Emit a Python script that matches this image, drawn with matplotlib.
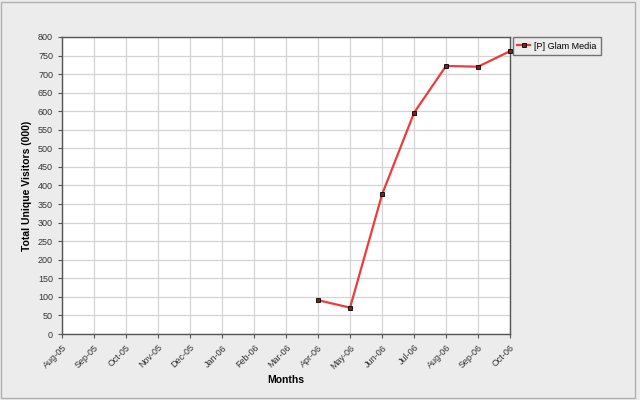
import matplotlib
matplotlib.use("Agg")
from matplotlib import pyplot as plt
import numpy as np

months = ['Aug-05', 'Sep-05', 'Oct-05', 'Nov-05', 'Dec-05', 'Jan-06', 'Feb-06',
          'Mar-06', 'Apr-06', 'May-06', 'Jun-06', 'Jul-06', 'Aug-06', 'Sep-06', 'Oct-06']
# only the last seven months have data
glam_months = ['Apr-06', 'May-06', 'Jun-06', 'Jul-06', 'Aug-06', 'Sep-06', 'Oct-06']
glam_visitors = [91, 71, 376, 596, 722, 720, 762]

plt.rcParams['font.family'] = ['Liberation Sans', 'DejaVu Sans']

fig = plt.figure(figsize=(6.4, 4.0), dpi=100, facecolor='#ececec')
ax = fig.add_axes([0.097, 0.165, 0.70, 0.7425])
ax.set_facecolor('white')

x_all = np.arange(len(months))
x_glam = [months.index(m) for m in glam_months]
ax.plot(x_glam, glam_visitors, color='#ee3b3b', lw=1.6, marker='s', ms=3.5,
        mfc='#8b1a1a', mec='black', mew=0.6, label='[P] Glam Media', zorder=3, clip_on=False)

ax.set_xlim(0, len(months) - 1)
ax.set_ylim(0, 800)
ax.set_xticks(x_all)
ax.set_xticklabels(months, rotation=45, ha='right', rotation_mode='anchor', fontsize=6.5, color='#333333')
ax.set_yticks(np.arange(0, 801, 50))
ax.tick_params(axis='y', labelsize=6.5, labelcolor='#333333')
ax.tick_params(length=3, color='#555555', width=0.8)
ax.grid(True, color='#d4d4d4', lw=0.9)
ax.set_axisbelow(True)
for s in ax.spines.values():
    s.set_color('#555555')
    s.set_linewidth(1.0)

ax.set_xlabel('Months', fontsize=7.5, fontweight='bold', labelpad=3)
ax.set_ylabel('Total Unique Visitors (000)', fontsize=7.5, fontweight='bold', labelpad=4)

leg = ax.legend(loc='upper left', bbox_to_anchor=(1.006, 1.0), fontsize=6.5, frameon=True,
                fancybox=False, borderaxespad=0, handlelength=1.4, handletextpad=0.5, borderpad=0.5)
leg.get_frame().set_edgecolor('#555555')
leg.get_frame().set_linewidth(1.0)
leg.get_frame().set_facecolor('#ececec')

# thin frame around the whole picture
fig.patches.append(plt.Rectangle((0.002, 0.005), 0.99, 0.99, transform=fig.transFigure,
                                 fill=False, edgecolor='#b0b0b0', lw=1.0))

fig.savefig('out.png', dpi=100, facecolor=fig.get_facecolor())
